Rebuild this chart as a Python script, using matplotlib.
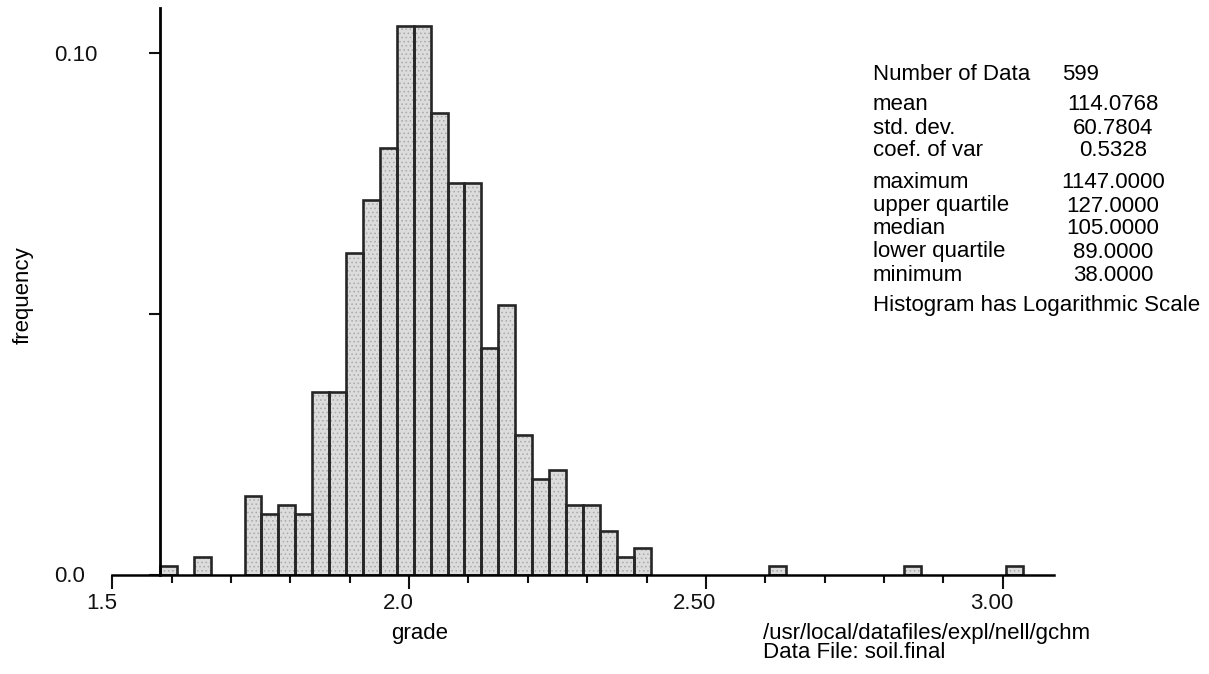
import numpy as np
import matplotlib
matplotlib.use("Agg")
import matplotlib.pyplot as plt
from matplotlib.transforms import ScaledTranslation

# histogram of log10(grade), 599 soil samples
n_data = 599
bin_start = 1.5803   # log10 of the minimum grade
bin_width = 0.0285
counts = [1, 0, 2, 0, 0, 9, 7, 8, 7, 21, 21, 37, 43, 49, 63, 63, 53, 45, 45,
          26, 31, 16, 11, 12, 8, 8, 5, 2, 3, 0, 0, 0, 0, 0, 0, 0, 1, 0, 0,
          0, 0, 0, 0, 0, 1, 0, 0, 0, 0, 0, 1]

x_major = [1.5, 2.0, 2.5, 3.0]
x_major_labels = ["1.5", "2.0", "2.50", "3.00"]
x_minor = [1.6, 1.7, 1.8, 1.9, 2.1, 2.2, 2.3, 2.4, 2.6, 2.7, 2.8, 2.9]
y_ticks = [0.0, 0.05, 0.10]
y_tick_labels = ["0.0", "", "0.10"]

stat_labels = ["Number of Data", "mean", "std. dev.", "coef. of var",
               "maximum", "upper quartile", "median", "lower quartile", "minimum"]
stat_values = ["599", "114.0768", "60.7804", "0.5328",
               "1147.0000", "127.0000", "105.0000", "89.0000", "38.0000"]

plt.rcParams["font.family"] = ["Liberation Sans", "DejaVu Sans"]
plt.rcParams["font.size"] = 16
plt.rcParams["hatch.linewidth"] = 0.6

W, H = 1209, 674
fig = plt.figure(figsize=(W / 100, H / 100), dpi=100)
ax = fig.add_axes([112.3 / W, 1 - 574.5 / H, 941.7 / W, 566.5 / H])


def px(x, y):
    return x / W, 1 - y / H


counts = np.array(counts)
freq = counts / n_data
left = bin_start + bin_width * np.arange(len(counts))
keep = counts > 0

# stippled grey fill, then dark outlines on top
ax.bar(left[keep], freq[keep], width=bin_width, align="edge",
       color="#dcdcdc", edgecolor="#a9a9a9", hatch="....", linewidth=0)
ax.bar(left[keep], freq[keep], width=bin_width, align="edge",
       fill=False, edgecolor="#262626", linewidth=1.9)

ax.set_xlim(1.5, 3.0864)
ax.set_ylim(0, 0.1087)

for s in ["top", "right"]:
    ax.spines[s].set_visible(False)
ax.spines["left"].set_position(("data", bin_start))
ax.spines["left"].set_linewidth(2.0)
ax.spines["bottom"].set_linewidth(1.8)
ax.spines["left"].set_zorder(3)
ax.spines["bottom"].set_zorder(3)

ax.set_xticks(x_major)
ax.set_xticklabels(x_major_labels)
ax.set_xticks(x_minor, minor=True)
ax.tick_params(axis="x", which="major", length=10, width=1.5, pad=3, colors="#111111")
ax.tick_params(axis="x", which="minor", length=6, width=1.5, colors="#111111")
ax.set_yticks(y_ticks)
ax.set_yticklabels(y_tick_labels)
# y labels sit flush left, well away from the axis
ax.tick_params(axis="y", length=8, width=1.5, pad=68, colors="#111111")
for lab in ax.get_yticklabels():
    lab.set_horizontalalignment("left")

shift = ScaledTranslation(-0.11, 0, fig.dpi_scale_trans)
for lab in ax.get_xticklabels():
    lab.set_transform(lab.get_transform() + shift)

# axis titles
fig.text(*px(23, 295), "frequency", rotation=90, ha="center", va="center")
fig.text(*px(420, 633), "grade", ha="center", va="center")
fig.text(*px(763, 633), "/usr/local/datafiles/expl/nell/gchm", ha="left", va="center")
fig.text(*px(763, 653), "Data File: soil.final", ha="left", va="center")

# summary statistics
rows = [74, 105, 128, 151, 183, 206, 229, 252, 275]
for y, lab, val in zip(rows, stat_labels, stat_values):
    fig.text(*px(873, y), lab, ha="left", va="center")
    if lab == "Number of Data":
        fig.text(*px(1062, y), val, ha="left", va="center")
    else:
        fig.text(*px(1113, y), val, ha="center", va="center")
fig.text(*px(873, 306), "Histogram has Logarithmic Scale", ha="left", va="center")

fig.savefig("out.png", dpi=100)
